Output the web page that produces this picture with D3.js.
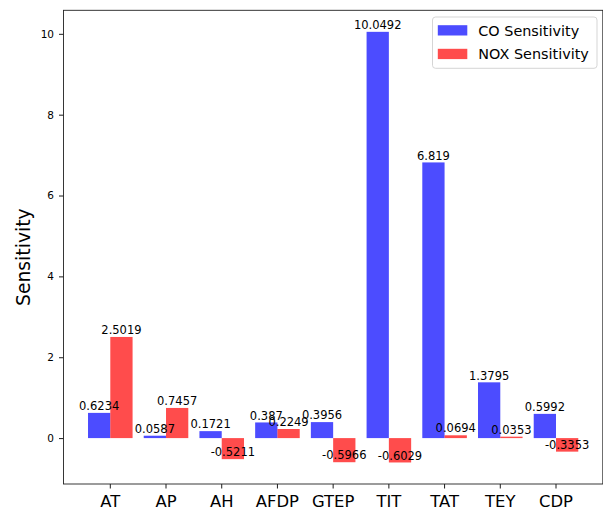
<!DOCTYPE html>
<html>
<head>
<meta charset="utf-8">
<script src="https://cdn.jsdelivr.net/npm/d3@7"></script>
<style>
  body { margin: 0; background: #fff; }
  svg text { font-family: "DejaVu Sans", sans-serif; fill: #000; }
</style>
</head>
<body>
<svg id="chart" width="603" height="509"></svg>
<script>
// data
var features = ["AT", "AP", "AH", "AFDP", "GTEP", "TIT", "TAT", "TEY", "CDP"];
var coSens = [0.6234, 0.0587, 0.1721, 0.387, 0.3956, 10.0492, 6.819, 1.3795, 0.5992];
var noxSens = [2.5019, 0.7457, -0.5211, 0.2249, -0.5966, -0.6029, 0.0694, 0.0353, -0.3353];
var seriesNames = ["CO Sensitivity", "NOX Sensitivity"];
var yTicks = [0, 2, 4, 6, 8, 10];

var colors = {"CO Sensitivity": "rgb(0,0,255)", "NOX Sensitivity": "rgb(255,0,0)"};

var svg = d3.select("#chart");
var plotLeft = 63.5, plotRight = 602.8, plotTop = 10.3, plotBottom = 484;

// rows for each feature
var rows = features.map(function(f, i){
	return {name: f, values: [
		{key: seriesNames[0], value: coSens[i]},
		{key: seriesNames[1], value: noxSens[i]}
	]};
});

var x0 = d3.scaleBand()
	.domain(features)
	.range([plotLeft, plotRight])
	.paddingInner(0.2)
	.paddingOuter(0.44);

var x1 = d3.scaleBand()
	.domain(seriesNames)
	.range([0, x0.bandwidth()]);

// matplotlib style 5% margins
var all = coSens.concat(noxSens);
var ext = d3.extent(all);
var pad = (ext[1] - ext[0]) * 0.05;
var y = d3.scaleLinear()
	.domain([ext[0] - pad, ext[1] + pad])
	.range([plotBottom, plotTop]);

// bars
var groups = svg.append("g").selectAll("g")
	.data(rows)
	.enter()
	.append("g")
	.attr("transform", function(d){ return "translate(" + x0(d.name) + ",0)"; });

groups.selectAll("rect")
	.data(function(d){ return d.values; })
	.enter()
	.append("rect")
	.attr("x", function(d){ return x1(d.key); })
	.attr("width", x1.bandwidth())
	.attr("y", function(d){ return y(Math.max(0, d.value)); })
	.attr("height", function(d){ return Math.abs(y(d.value) - y(0)); })
	.style("fill", function(d){ return colors[d.key]; })
	.style("fill-opacity", 0.7);

// value labels, on top of all bars
var labels = svg.append("g").selectAll("g")
	.data(rows)
	.enter()
	.append("g")
	.attr("transform", function(d){ return "translate(" + x0(d.name) + ",0)"; });

labels.selectAll("text")
	.data(function(d){ return d.values; })
	.enter()
	.append("text")
	.attr("x", function(d){ return x1(d.key) + x1.bandwidth() / 2; })
	.attr("y", function(d){ return y(d.value) - 2.8; })
	.attr("text-anchor", "middle")
	.style("font-size", "11.5px")
	.text(function(d){ return String(d.value); });

// axes
var xAxis = svg.append("g")
	.attr("transform", "translate(0," + plotBottom + ")")
	.call(d3.axisBottom(x0).tickSize(4.5).tickPadding(6.9).tickSizeOuter(0));
xAxis.selectAll("text").style("font-size", "16.4px");

var yAxis = svg.append("g")
	.attr("transform", "translate(" + plotLeft + ",0)")
	.call(d3.axisLeft(y).tickValues(yTicks).tickSize(4.5).tickPadding(5).tickSizeOuter(0));
yAxis.selectAll("text").style("font-size", "10.5px");

svg.selectAll(".domain").remove();
svg.selectAll(".tick line").style("stroke", "#000").style("stroke-width", 0.9);

// frame
svg.append("rect")
	.attr("x", plotLeft)
	.attr("y", plotTop)
	.attr("width", plotRight - plotLeft)
	.attr("height", plotBottom - plotTop)
	.style("fill", "none")
	.style("stroke", "#222")
	.style("stroke-width", 0.9);

// y label
svg.append("text")
	.attr("transform", "translate(30.4," + ((plotTop + plotBottom) / 2 + 10) + ") rotate(-90)")
	.attr("text-anchor", "middle")
	.style("font-size", "18.8px")
	.text("Sensitivity");

// legend
var legend = svg.append("g");
legend.append("rect")
	.attr("x", 432.5)
	.attr("y", 17)
	.attr("width", 164.5)
	.attr("height", 51.3)
	.attr("rx", 3)
	.style("fill", "#fff")
	.style("fill-opacity", 0.8)
	.style("stroke", "#d0d0d0")
	.style("stroke-width", 0.9);

var items = legend.selectAll("g.item")
	.data(seriesNames)
	.enter()
	.append("g")
	.attr("class", "item")
	.attr("transform", function(d, i){ return "translate(0," + (i * 23.6) + ")"; });

items.append("rect")
	.attr("x", 437.8)
	.attr("y", 25.2)
	.attr("width", 29.5)
	.attr("height", 10.3)
	.style("fill", function(d){ return colors[d]; })
	.style("fill-opacity", 0.7);

items.append("text")
	.attr("x", 478.3)
	.attr("y", 35.6)
	.style("font-size", "14.4px")
	.text(function(d){ return d; });
</script>
</body>
</html>
